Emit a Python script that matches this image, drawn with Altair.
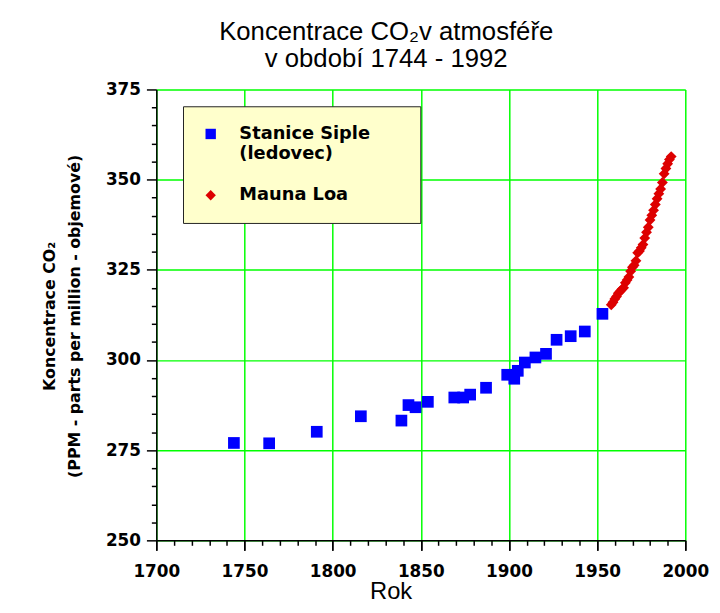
import altair as alt
import pandas as pd

# --- data ---
siple_name = "Stanice Siple|(ledovec)"
mauna_name = "Mauna Loa"

siple_years = [1744, 1764, 1791, 1816, 1839, 1843, 1847, 1854, 1869, 1874, 1878,
               1887, 1899, 1903, 1905, 1909, 1915, 1921, 1927, 1935, 1943, 1953]
siple_ppm = [277.0, 276.9, 280.1, 284.4, 283.2, 287.5, 286.9, 288.4, 289.6, 289.6,
             290.4, 292.3, 295.9, 294.8, 297.0, 299.3, 300.7, 301.7, 305.6, 306.6,
             307.9, 312.8]

mauna_years = list(range(1958, 1993))
mauna_ppm = [315.3, 316.0, 316.9, 317.6, 318.5, 319.0, 319.6, 320.0, 321.4, 322.2,
             323.0, 324.6, 325.7, 326.3, 327.5, 329.7, 330.2, 331.1, 332.0, 333.8,
             335.4, 336.8, 338.8, 340.1, 341.5, 343.1, 344.7, 346.1, 347.4, 349.2,
             351.6, 353.1, 354.4, 355.6, 356.4]

x_major = list(range(1700, 2001, 50))
x_minor = list(range(1700, 2001, 10))
y_ticks = list(range(250, 376, 5))

siple_df = pd.DataFrame({"rok": siple_years, "ppm": siple_ppm, "serie": siple_name})
mauna_df = pd.DataFrame({"rok": mauna_years, "ppm": mauna_ppm, "serie": mauna_name})

series_domain = [siple_name, mauna_name]

# non-breaking spaces kept from trimming by a trailing zero-width space
PAD = "\u00a0" * 5 + "\u200b"
legend_label_expr = (
    "indexof(datum.label, '|') >= 0 ? "
    "[split(datum.label, '|')[0] + '" + PAD + "', split(datum.label, '|')[1]] : datum.label"
)

x_scale = alt.Scale(domain=[1700, 2000], nice=False, zero=False)

x_major_enc = alt.X(
    "rok:Q",
    scale=x_scale,
    axis=alt.Axis(
        title="Rok",
        orient="bottom",
        values=x_major,
        format="d",
        labelFlush=False,
        ticks=True,
        tickSize=10,
        tickColor="black",
        tickWidth=1.5,
        grid=True,
        labelPadding=14,
        titleX=237,
        titleY=59,
        titleBaseline="alphabetic",
        titleFont="Liberation Sans",
        titleFontSize=24,
        titleFontWeight="normal",
    ),
)
x_minor_enc = alt.X(
    "rok:Q",
    scale=x_scale,
    axis=alt.Axis(
        title=None,
        orient="bottom",
        values=x_minor,
        labels=False,
        grid=False,
        domain=False,
        ticks=True,
        tickSize={"condition": {"test": "datum.value % 50 === 0", "value": 10}, "value": 5},
        tickColor="black",
        tickOpacity=1,
        tickWidth=1.5,
    ),
)
y_enc = alt.Y(
    "ppm:Q",
    scale=alt.Scale(domain=[250, 375], nice=False, zero=False),
    axis=alt.Axis(
        title=["Koncentrace CO₂", "(PPM - parts per million - objemové)"],
        values=y_ticks,
        labelExpr="datum.value % 25 === 0 ? datum.label : ''",
        labelFlush=False,
        tickSize={"condition": {"test": "datum.value % 25 === 0", "value": 10}, "value": 5},
        gridOpacity={"condition": {"test": "datum.value % 25 === 0", "value": 1}, "value": 0},
        labelPadding=6,
        titleAngle=270,
        titleX=-103,
        titleY=229,
        titleAlign="center",
        titleBaseline="alphabetic",
        titleLineHeight=25,
        titleFont="DejaVu Sans",
        titleFontSize=16,
        titleFontWeight="bold",
    ),
)

color_enc = alt.Color(
    "serie:N",
    scale=alt.Scale(domain=series_domain, range=["#0000ff", "#dd0000"]),
    legend=alt.Legend(
        title=None,
        orient="none",
        legendX=27,
        legendY=17,
        fillColor="#ffffcc",
        strokeColor="#222222",
        padding=19,
        rowPadding=24,
        labelFont="DejaVu Sans",
        labelFontSize=18,
        labelFontWeight="bold",
        labelColor="black",
        labelOffset=20,
        labelLimit=400,
        symbolSize=110,
        labelExpr=legend_label_expr,
    ),
)
shape_enc = alt.Shape(
    "serie:N",
    scale=alt.Scale(domain=series_domain, range=["square", "diamond"]),
    legend=None,
)

siple = alt.Chart(siple_df).mark_point(filled=True, size=140, opacity=1).encode(
    x=x_major_enc, y=y_enc, color=color_enc, shape=shape_enc
)
mauna = alt.Chart(mauna_df).mark_point(filled=True, size=120, opacity=1).encode(
    x=x_minor_enc, y=y_enc, color=color_enc, shape=shape_enc
)

chart = (
    alt.layer(siple, mauna)
    .resolve_axis(x="independent")
    .properties(
        width=535,
        height=456,
        title=alt.TitleParams(
            text=["Koncentrace CO₂v atmosféře", "v období 1744 - 1992"],
            font="Liberation Sans",
            fontSize=26,
            fontWeight="normal",
            lineHeight=27,
            anchor="middle",
            frame="group",
            dx=-35,
            offset=9,
            color="black",
        ),
        autosize=alt.AutoSizeParams(type="none"),
        padding={"left": 150, "top": 79, "right": 27, "bottom": 62},
        background="white",
    )
    .configure_view(stroke=None)
    .configure_axis(
        domainColor="black",
        domainWidth=1.5,
        tickColor="black",
        tickWidth=1.5,
        gridColor="#00ff00",
        gridWidth=1.5,
        labelFont="DejaVu Sans",
        labelFontSize=17,
        labelFontWeight="bold",
        labelColor="black",
        titleColor="black",
    )
)

chart.save("out.html", embed_options={"renderer": "svg", "actions": False})
